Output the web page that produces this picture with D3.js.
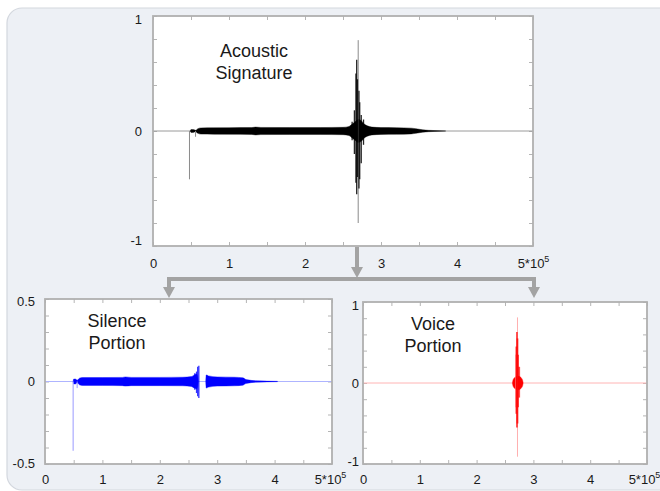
<!DOCTYPE html>
<html><head><meta charset="utf-8">
<script src="https://cdn.jsdelivr.net/npm/d3@7"></script>
<style>
body{margin:0;background:#fff}
svg{display:block}
text{font-family:"Liberation Sans",Arial,sans-serif;fill:#1a1a1a}
</style></head>
<body><svg id="c" width="660" height="491"></svg>
<script>
// ---------- data (x in units of 10^5 samples, amplitude) ----------
const xTickValues = [0, 1, 2, 3, 4, 5];
const xLabelText = ["0", "1", "2", "3", "4", "5*10"];
const topYLabels = [-1, 0, 1];
const silenceYLabels = [-0.5, 0, 0.5];
const voiceYLabels = [-1, 0, 1];

// symmetric amplitude envelopes [x, amplitude]; null breaks the trace
const topEnvelope = [[0.49,0],[0.50,0.012],[0.53,0.012],[0.56,0.006],[0.59,0.02],[0.63,0.027],[0.8,0.028],[1.0,0.029],[1.3,0.03],[1.35,0.034],[1.42,0.031],[1.8,0.03],[2.2,0.03],[2.5,0.032],[2.58,0.04],[2.62,0.06],[2.66,0.08],[2.70,0.1],[2.74,0.09],[2.78,0.06],[2.82,0.045],[2.88,0.034],[3.0,0.03],[3.2,0.029],[3.4,0.025],[3.46,0.02],[3.55,0.01],[3.7,0.004],[3.85,0.001]];
const topSpikes = [[2.62,-0.08,0.08],[2.65,-0.2,0.18],[2.67,-0.45,0.5],[2.68,-0.55,0.62],[2.69,-0.4,0.45],[2.71,-0.5,0.35],[2.72,-0.42,0.25],[2.74,-0.28,0.14],[2.77,-0.12,0.1]];
const topThinSpikes = [[0.48,-0.42,0],[0.56,-0.05,0],[2.70,-0.8,0.79]];

const silenceEnvelope = [[0.49,0],[0.50,0.015],[0.53,0.015],[0.56,0.008],[0.6,0.02],[0.65,0.024],[1.0,0.024],[1.35,0.025],[1.4,0.028],[1.5,0.025],[2.0,0.025],[2.4,0.026],[2.55,0.03],[2.6,0.04],[2.64,0.045],[2.66,0.03],[2.67,0],null,[2.80,0],[2.81,0.04],[2.85,0.034],[3.0,0.028],[3.3,0.026],[3.45,0.022],[3.5,0.012],[3.7,0.004],[4.05,0.001]];
const silenceSpikes = [[2.61,-0.05,0.05],[2.64,-0.07,0.06],[2.66,-0.09,0.09],[2.68,-0.1,0.095],[2.82,-0.03,0.04]];
const silenceThinSpikes = [[0.49,-0.42,0],[0.56,-0.04,0]];

const voiceEnvelope = [[2.63,0],[2.64,0.035],[2.66,0.06],[2.69,0.078],[2.72,0.085],[2.76,0.08],[2.79,0.06],[2.81,0.035],[2.82,0]];
const voiceSpikes = [[2.70,-0.38,0.45],[2.71,-0.55,0.63],[2.72,-0.5,0.55],[2.73,-0.3,0.35],[2.75,-0.18,0.2]];
const voiceThinSpikes = [[2.72,-0.91,0.81],[2.69,-0.3,0.35]];

// ---------- drawing ----------
const svg = d3.select("#c");

// background panel
svg.append("rect").attr("x",7).attr("y",8).attr("width",670).attr("height",482)
  .attr("rx",15).attr("fill","#edf0f5").attr("stroke","#d3d7de").attr("stroke-width",1.2);

function chart(o){
  const g = svg.append("g");
  const x = d3.scaleLinear().domain([0,5]).range([o.left,o.right]);
  const y = d3.scaleLinear().domain(o.ydom).range([o.bottom,o.top]);
  g.append("rect").attr("x",o.left).attr("y",o.top).attr("width",o.right-o.left)
    .attr("height",o.bottom-o.top).attr("fill","#fff");

  // tick marks (inward, all four sides)
  const xt = d3.range(0,5.001,0.5), yt = d3.range(o.ydom[0],o.ydom[1]+1e-9,o.yStep);
  const mk = (axis, tx, ty) => {
    const a = g.append("g").attr("transform",`translate(${tx},${ty})`).call(axis);
    a.select(".domain").remove();
    a.selectAll("line").attr("stroke","#b5b5b5").attr("stroke-width",1);
  };
  mk(d3.axisBottom(x).tickValues(xt).tickSize(-4).tickFormat(""),0,o.bottom);
  mk(d3.axisTop(x).tickValues(xt).tickSize(-4).tickFormat(""),0,o.top);
  mk(d3.axisLeft(y).tickValues(yt).tickSize(-4).tickFormat(""),o.left,0);
  mk(d3.axisRight(y).tickValues(yt).tickSize(-4).tickFormat(""),o.right,0);

  // zero line
  g.append("line").attr("x1",o.left).attr("x2",o.right).attr("y1",y(0)).attr("y2",y(0))
    .attr("stroke",o.baseColor).attr("stroke-width",1);

  // envelope
  const area = d3.area().defined(d=>d!==null).x(d=>x(d[0])).y0(d=>y(-d[1])).y1(d=>y(d[1]))
    .curve(d3.curveMonotoneX);
  g.append("path").attr("d",area(o.env)).attr("fill",o.color).attr("stroke",o.color).attr("stroke-width",0.4);

  // spikes
  g.selectAll(null).data(o.thin).join("line")
    .attr("x1",d=>x(d[0])).attr("x2",d=>x(d[0])).attr("y1",d=>y(d[1])).attr("y2",d=>y(d[2]))
    .attr("stroke",o.thinColor).attr("stroke-width",1);
  g.selectAll(null).data(o.spikes).join("line")
    .attr("x1",d=>x(d[0])).attr("x2",d=>x(d[0])).attr("y1",d=>y(d[1])).attr("y2",d=>y(d[2]))
    .attr("stroke",o.color).attr("stroke-width",o.spikeWidth).attr("stroke-opacity",o.spikeOpacity);

  // frame
  g.append("rect").attr("x",o.left).attr("y",o.top).attr("width",o.right-o.left)
    .attr("height",o.bottom-o.top).attr("fill","none").attr("stroke","#b0b0b0").attr("stroke-width",1.8);

  // x labels
  const xl = g.append("g").attr("transform",`translate(0,${o.bottom})`)
    .call(d3.axisBottom(x).tickValues(xTickValues).tickSize(0).tickPadding(o.xPad)
      .tickFormat((d,i)=>xLabelText[i]));
  xl.select(".domain").remove();
  xl.selectAll("text").attr("font-size",13).attr("fill","#1a1a1a")
    .style("font-family",'"Liberation Sans",Arial,sans-serif')
    .each(function(d,i){
      if(i===xTickValues.length-1){
        d3.select(this).attr("dx",o.lastDx).append("tspan").attr("dy",-6).attr("font-size",9).text("5");
      }
    });

  // y labels
  const yl = g.append("g").attr("transform",`translate(${o.left},0)`)
    .call(d3.axisLeft(y).tickValues(o.yLabels).tickSize(0).tickPadding(o.yPad).tickFormat(d=>String(d)));
  yl.select(".domain").remove();
  yl.selectAll("text").attr("font-size",13).attr("fill","#1a1a1a")
    .style("font-family",'"Liberation Sans",Arial,sans-serif')
    .attr("dy",(d,i)=>o.yDy[i]);

  // title
  const t = g.append("text").attr("x",o.tx).attr("y",o.ty).attr("text-anchor","middle").attr("font-size",18);
  o.title.forEach((s,i)=>t.append("tspan").attr("x",o.tx).attr("dy",i?22:0).text(s));
}

chart({left:153,right:533,top:16,bottom:246,ydom:[-1,1],yStep:0.2,yLabels:topYLabels,
  env:topEnvelope,spikes:topSpikes,thin:topThinSpikes,color:"#000",thinColor:"#8a8a8a",spikeOpacity:0.85,spikeWidth:1.3,
  baseColor:"#9a9a9a",xPad:13,yPad:11,yDy:["-0.15em","0.32em","0.6em"],lastDx:0,
  title:["Acoustic","Signature"],tx:254,ty:57});

chart({left:45,right:332,top:299,bottom:464,ydom:[-0.5,0.5],yStep:0.1,yLabels:silenceYLabels,
  env:silenceEnvelope,spikes:silenceSpikes,thin:silenceThinSpikes,color:"#0000ff",thinColor:"#9a9aff",spikeOpacity:0.8,spikeWidth:1.3,
  baseColor:"#aeb4ff",xPad:11,yPad:10,yDy:["0.3em","0.32em","0.5em"],lastDx:-2,
  title:["Silence","Portion"],tx:117,ty:327});

chart({left:363,right:647,top:302,bottom:464,ydom:[-1,1],yStep:0.2,yLabels:voiceYLabels,
  env:voiceEnvelope,spikes:voiceSpikes,thin:voiceThinSpikes,color:"#ff0000",thinColor:"#ffb0b0",spikeOpacity:0.7,spikeWidth:1.8,
  baseColor:"#ffb4b4",xPad:11,yPad:4,yDy:["0.1em","0.32em","0.6em"],lastDx:-3,
  title:["Voice","Portion"],tx:433,ty:330});

// connector arrows
const ac = "#a3a3a3";
const ag = svg.append("g").attr("fill","none").attr("stroke",ac).attr("stroke-width",4);
ag.append("path").attr("d","M357,247V268");
ag.append("path").attr("d","M169,289V279H534V289");
const head = (cx,tip)=>svg.append("path").attr("d",`M${cx-6},${tip-11}L${cx+6},${tip-11}L${cx},${tip}Z`).attr("fill",ac);
head(357,278); head(169,298); head(534,298);
</script>
</body></html>
